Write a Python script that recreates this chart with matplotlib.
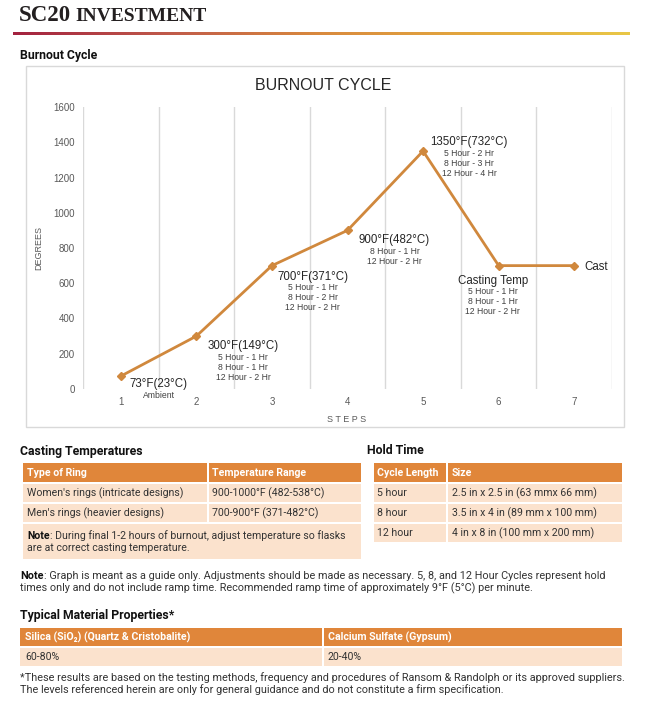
import numpy as np
import matplotlib
matplotlib.use("Agg")
import matplotlib.pyplot as plt
from matplotlib.patches import Rectangle
from matplotlib.colors import LinearSegmentedColormap

# chart data
steps = [1, 2, 3, 4, 5, 6, 7]
temps_f = [73, 300, 700, 900, 1350, 700, 700]
point_titles = ["73°F(23°C)", "300°F(149°C)", "700°F(371°C)", "900°F(482°C)",
                "1350°F(732°C)", "Casting Temp", "Cast"]
point_notes = [["Ambient"],
               ["5 Hour - 1 Hr", "8 Hour - 1 Hr", "12 Hour - 2 Hr"],
               ["5 Hour - 1 Hr", "8 Hour - 2 Hr", "12 Hour - 2 Hr"],
               ["8 Hour - 1 Hr", "12 Hour - 2 Hr"],
               ["5 Hour - 2 Hr", "8 Hour - 3 Hr", "12 Hour - 4 Hr"],
               ["5 Hour - 1 Hr", "8 Hour - 1 Hr", "12 Hour - 2 Hr"],
               []]
y_ticks = [0, 200, 400, 600, 800, 1000, 1200, 1400, 1600]

# tables
casting_cols = ["Type of Ring", "Temperature Range"]
casting_rows = [["Women's rings (intricate designs)", "900-1000°F (482-538°C)"],
                ["Men's rings (heavier designs)", "700-900°F (371-482°C)"]]
casting_note = ["During final 1-2 hours of burnout, adjust temperature so flasks",
                "are at correct casting temperature."]
hold_cols = ["Cycle Length", "Size"]
hold_rows = [["5 hour", "2.5 in x 2.5 in (63 mmx 66 mm)"],
             ["8 hour", "3.5 in x 4 in (89 mm x 100 mm)"],
             ["12 hour", "4 in x 8 in (100 mm x 200 mm)"]]
material_cols = ["Silica (SiO\u2082) (Quartz & Cristobalite)", "Calcium Sulfate (Gypsum)"]
material_rows = [["60-80%", "20-40%"]]
graph_note = ["Graph is meant as a guide only. Adjustments should be made as necessary. 5, 8, and 12 Hour Cycles represent hold",
              "times only and do not include ramp time. Recommended ramp time of approximately 9°F (5°C) per minute."]
footnote = ["*These results are based on the testing methods, frequency and procedures of Ransom & Randolph or its approved suppliers.",
            "The levels referenced herein are only for general guidance and do not constitute a firm specification."]

ORANGE = "#e0863a"
PEACH = "#fbe2cd"
LINE = "#d0883d"
TXT = "#333333"
FONT = ["Roboto", "DejaVu Sans"]
TBL_FS = 7.6
NOTE_FS = 7.8

W, H = 647, 708
fig = plt.figure(figsize=(W / 100, H / 100), dpi=100)
page = fig.add_axes([0, 0, 1, 1])
page.set_xlim(0, W)
page.set_ylim(H, 0)
page.axis("off")
renderer = fig.canvas.get_renderer()


def px_box(x0, y0, x1, y1):
    return [x0 / W, 1 - y1 / H, (x1 - x0) / W, (y1 - y0) / H]


def note_line(x, y, bold, rest, fs):
    # bold lead word, then the rest of the line right after it
    t = page.text(x, y, bold, fontsize=fs, fontweight="bold", color="#111111",
                  family=FONT, va="center")
    w = t.get_window_extent(renderer=renderer).width
    page.text(x + w, y, rest, fontsize=fs, color=TXT, family=FONT, va="center")


# header
page.text(19, 21, "SC20", fontsize=16.5, fontweight="bold", family="Liberation Serif",
          color="#231f20", va="baseline")
page.text(75, 21, "INVESTMENT", fontsize=14, fontweight="bold", family="Liberation Serif",
          color="#231f20", va="baseline")
grad = LinearSegmentedColormap.from_list("g", ["#a3223f", "#c05a4a", "#d98a3d", "#e3a83f", "#e9c747"])
page.imshow(np.linspace(0, 1, 256)[None, :], cmap=grad, aspect="auto",
            extent=[13, 630, 35.5, 32.5], zorder=1)
page.set_xlim(0, W)
page.set_ylim(H, 0)

page.text(20, 55, "Burnout Cycle", fontsize=8.8, fontweight="bold", family=FONT,
          color="#111111", va="center")

# chart frame
page.add_patch(Rectangle((26, 66), 598, 361, fill=False, edgecolor="#d9d9d9", lw=1))
page.text(323, 85, "BURNOUT CYCLE", fontsize=11.5, family="Liberation Sans",
          color="#262626", ha="center", va="center")

chart = fig.add_axes(px_box(83, 107, 612, 389))
chart.set_facecolor("none")
chart.plot(steps, temps_f, color=LINE, lw=2, marker="D", ms=4.5, zorder=3)
chart.set_xlim(0.5, 7.5)
chart.set_ylim(0, 1600)
chart.set_yticks(y_ticks)
chart.set_xticks(steps)
chart.set_xticks(np.arange(0.5, 8, 1), minor=True)
chart.grid(True, which="minor", axis="x", color="#d9d9d9", lw=1)
chart.tick_params(which="both", length=0, labelsize=7, labelcolor="#595959", pad=6)
for lab in chart.get_xticklabels() + chart.get_yticklabels():
    lab.set_family("Liberation Sans")
for s in chart.spines.values():
    s.set_visible(False)
chart.set_ylabel("DEGREES", fontsize=6.5, color="#595959", family="Liberation Sans")
chart.yaxis.set_label_coords(-0.076, 0.5)
chart.set_xlabel("S T E P S", fontsize=6.5, color="#595959", family="Liberation Sans")
chart.xaxis.set_label_coords(0.499, -0.092)

label_offsets = [(38, -8), (47, -10), (41, -11), (47, -10), (46, 9), (-6, -15), (10, -1)]
for i, (x, y) in enumerate(zip(steps, temps_f)):
    dx, dy = label_offsets[i]
    ha = "left" if point_titles[i] == "Cast" else "center"
    chart.annotate(point_titles[i], (x, y), xytext=(dx, dy), textcoords="offset pixels",
                   ha=ha, va="center", fontsize=8.3, color="#262626",
                   family="Liberation Sans", annotation_clip=False)
    for j, note in enumerate(point_notes[i]):
        chart.annotate(note, (x, y), xytext=(dx, dy - 11 - 10 * j), textcoords="offset pixels",
                       ha="center", va="center", fontsize=6.2, color="#404040",
                       family="Liberation Sans", annotation_clip=False)


def draw_table(cols, rows, x_edges, y_top, hdr_h, row_h, text_x):
    y = y_top
    for k in range(len(cols)):
        page.add_patch(Rectangle((x_edges[k], y), x_edges[k + 1] - x_edges[k] - 2, hdr_h,
                                 facecolor=ORANGE, edgecolor="none"))
        page.text(text_x[k], y + hdr_h / 2, cols[k], fontsize=TBL_FS, fontweight="bold",
                  color="white", family=FONT, va="center")
    y += hdr_h + 2
    for r in rows:
        for k in range(len(cols)):
            page.add_patch(Rectangle((x_edges[k], y), x_edges[k + 1] - x_edges[k] - 2, row_h,
                                     facecolor=PEACH, edgecolor="none"))
            page.text(text_x[k], y + row_h / 2, r[k], fontsize=TBL_FS, color=TXT,
                      family=FONT, va="center")
        y += row_h + 2
    return y


# casting temperatures
page.text(20, 451, "Casting Temperatures", fontsize=8.8, fontweight="bold", family=FONT,
          color="#111111", va="center")
y_end = draw_table(casting_cols, casting_rows, [23, 209, 363], 463, 19, 18, [27, 212])
page.add_patch(Rectangle((23, y_end), 338, 35, facecolor=PEACH, edgecolor="none"))
note_line(27, 536, "Note", ": " + casting_note[0], TBL_FS)
page.text(27, 548, casting_note[1], fontsize=TBL_FS, color=TXT, family=FONT, va="center")

# hold time
page.text(367, 451, "Hold Time", fontsize=8.8, fontweight="bold", family=FONT,
          color="#111111", va="center")
draw_table(hold_cols, hold_rows, [374, 448, 624], 463, 19, 18, [377, 452])

# graph note
note_line(20, 576, "Note", ": " + graph_note[0], NOTE_FS)
page.text(20, 588, graph_note[1], fontsize=NOTE_FS, color=TXT, family=FONT, va="center")

# material properties
page.text(20, 615, "Typical Material Properties*", fontsize=8.8, fontweight="bold",
          family=FONT, color="#111111", va="center")
draw_table(material_cols, material_rows, [20, 324, 624], 628, 18, 18, [25, 328])
page.text(20, 678, footnote[0], fontsize=NOTE_FS, color=TXT, family=FONT, va="center")
page.text(20, 690, footnote[1], fontsize=NOTE_FS, color=TXT, family=FONT, va="center")

fig.savefig("out.png", dpi=100)
